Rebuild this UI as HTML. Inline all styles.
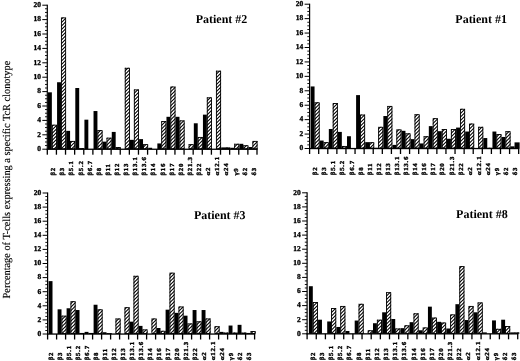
<!DOCTYPE html>
<html><head><meta charset="utf-8"><style>
html,body{margin:0;padding:0;background:#fff;}
body{width:520px;height:361px;overflow:hidden;}
svg{display:block;filter:grayscale(1);}
text{font-family:"Liberation Serif",serif;fill:#000;text-rendering:geometricPrecision;}
.b{font-weight:bold;}
.lb{font-weight:bold;stroke:#000;stroke-width:0.35px;}
.yl{font-weight:bold;stroke:#000;stroke-width:0.3px;}
</style></head><body>
<svg width="520" height="361" viewBox="0 0 520 361">
<rect x="0" y="0" width="520" height="361" fill="#fff"/>
<text x="0" y="0" font-size="10.8" text-anchor="middle" stroke="#000" stroke-width="0.12" transform="translate(9.6,179.6) rotate(-90) scale(0.955,1)">Percentage of T-cells expressing a specific TcR clonotype</text>
<clipPath id="c0"><rect x="51.85" y="124.72" width="5.1" height="24.48"/><rect x="60.97" y="17.44" width="5.1" height="131.76"/><rect x="70.08" y="140.92" width="5.1" height="8.28"/><rect x="79.2" y="148.12" width="5.1" height="1.08"/><rect x="97.44" y="130.12" width="5.1" height="19.08"/><rect x="106.55" y="137.68" width="5.1" height="11.52"/><rect x="115.67" y="147.04" width="5.1" height="2.16"/><rect x="124.79" y="67.84" width="5.1" height="81.36"/><rect x="133.9" y="89.44" width="5.1" height="59.76"/><rect x="143.02" y="144.16" width="5.1" height="5.04"/><rect x="161.25" y="121.12" width="5.1" height="28.08"/><rect x="170.37" y="86.56" width="5.1" height="62.64"/><rect x="179.49" y="120.4" width="5.1" height="28.8"/><rect x="188.6" y="144.16" width="5.1" height="5.04"/><rect x="197.72" y="136.96" width="5.1" height="12.24"/><rect x="206.84" y="97.36" width="5.1" height="51.84"/><rect x="215.96" y="70.72" width="5.1" height="78.48"/><rect x="225.07" y="147.4" width="5.1" height="1.8"/><rect x="234.19" y="143.8" width="5.1" height="5.4"/><rect x="243.31" y="145.24" width="5.1" height="3.96"/><rect x="252.42" y="140.92" width="5.1" height="8.28"/></clipPath>
<g clip-path="url(#c0)"><rect x="47.3" y="3.2" width="211.69" height="147" fill="#fff"/><path d="M47.3 -1.8L258.99 -213.49M47.3 1.7L258.99 -209.99M47.3 5.2L258.99 -206.49M47.3 8.7L258.99 -202.99M47.3 12.2L258.99 -199.49M47.3 15.7L258.99 -195.99M47.3 19.2L258.99 -192.49M47.3 22.7L258.99 -188.99M47.3 26.2L258.99 -185.49M47.3 29.7L258.99 -181.99M47.3 33.2L258.99 -178.49M47.3 36.7L258.99 -174.99M47.3 40.2L258.99 -171.49M47.3 43.7L258.99 -167.99M47.3 47.2L258.99 -164.49M47.3 50.7L258.99 -160.99M47.3 54.2L258.99 -157.49M47.3 57.7L258.99 -153.99M47.3 61.2L258.99 -150.49M47.3 64.7L258.99 -146.99M47.3 68.2L258.99 -143.49M47.3 71.7L258.99 -139.99M47.3 75.2L258.99 -136.49M47.3 78.7L258.99 -132.99M47.3 82.2L258.99 -129.49M47.3 85.7L258.99 -125.99M47.3 89.2L258.99 -122.49M47.3 92.7L258.99 -118.99M47.3 96.2L258.99 -115.49M47.3 99.7L258.99 -111.99M47.3 103.2L258.99 -108.49M47.3 106.7L258.99 -104.99M47.3 110.2L258.99 -101.49M47.3 113.7L258.99 -97.99M47.3 117.2L258.99 -94.49M47.3 120.7L258.99 -90.99M47.3 124.2L258.99 -87.49M47.3 127.7L258.99 -83.99M47.3 131.2L258.99 -80.49M47.3 134.7L258.99 -76.99M47.3 138.2L258.99 -73.49M47.3 141.7L258.99 -69.99M47.3 145.2L258.99 -66.49M47.3 148.7L258.99 -62.99M47.3 152.2L258.99 -59.49M47.3 155.7L258.99 -55.99M47.3 159.2L258.99 -52.49M47.3 162.7L258.99 -48.99M47.3 166.2L258.99 -45.49M47.3 169.7L258.99 -41.99M47.3 173.2L258.99 -38.49M47.3 176.7L258.99 -34.99M47.3 180.2L258.99 -31.49M47.3 183.7L258.99 -27.99M47.3 187.2L258.99 -24.49M47.3 190.7L258.99 -20.99M47.3 194.2L258.99 -17.49M47.3 197.7L258.99 -13.99M47.3 201.2L258.99 -10.49M47.3 204.7L258.99 -6.99M47.3 208.2L258.99 -3.49M47.3 211.7L258.99 0.01M47.3 215.2L258.99 3.51M47.3 218.7L258.99 7.01M47.3 222.2L258.99 10.51M47.3 225.7L258.99 14.01M47.3 229.2L258.99 17.51M47.3 232.7L258.99 21.01M47.3 236.2L258.99 24.51M47.3 239.7L258.99 28.01M47.3 243.2L258.99 31.51M47.3 246.7L258.99 35.01M47.3 250.2L258.99 38.51M47.3 253.7L258.99 42.01M47.3 257.2L258.99 45.51M47.3 260.7L258.99 49.01M47.3 264.2L258.99 52.51M47.3 267.7L258.99 56.01M47.3 271.2L258.99 59.51M47.3 274.7L258.99 63.01M47.3 278.2L258.99 66.51M47.3 281.7L258.99 70.01M47.3 285.2L258.99 73.51M47.3 288.7L258.99 77.01M47.3 292.2L258.99 80.51M47.3 295.7L258.99 84.01M47.3 299.2L258.99 87.51M47.3 302.7L258.99 91.01M47.3 306.2L258.99 94.51M47.3 309.7L258.99 98.01M47.3 313.2L258.99 101.51M47.3 316.7L258.99 105.01M47.3 320.2L258.99 108.51M47.3 323.7L258.99 112.01M47.3 327.2L258.99 115.51M47.3 330.7L258.99 119.01M47.3 334.2L258.99 122.51M47.3 337.7L258.99 126.01M47.3 341.2L258.99 129.51M47.3 344.7L258.99 133.01M47.3 348.2L258.99 136.51M47.3 351.7L258.99 140.01M47.3 355.2L258.99 143.51M47.3 358.7L258.99 147.01M47.3 362.2L258.99 150.51" stroke="#000" stroke-width="1.05" fill="none"/></g>
<g fill="none" stroke="#000" stroke-width="0.9"><rect x="52.3" y="125.17" width="4.2" height="23.58"/><rect x="61.42" y="17.89" width="4.2" height="130.86"/><rect x="70.53" y="141.37" width="4.2" height="7.38"/><rect x="79.65" y="148.57" width="4.2" height="0.18"/><rect x="97.89" y="130.57" width="4.2" height="18.18"/><rect x="107" y="138.13" width="4.2" height="10.62"/><rect x="116.12" y="147.49" width="4.2" height="1.26"/><rect x="125.24" y="68.29" width="4.2" height="80.46"/><rect x="134.35" y="89.89" width="4.2" height="58.86"/><rect x="143.47" y="144.61" width="4.2" height="4.14"/><rect x="161.7" y="121.57" width="4.2" height="27.18"/><rect x="170.82" y="87.01" width="4.2" height="61.74"/><rect x="179.94" y="120.85" width="4.2" height="27.9"/><rect x="189.05" y="144.61" width="4.2" height="4.14"/><rect x="198.17" y="137.41" width="4.2" height="11.34"/><rect x="207.29" y="97.81" width="4.2" height="50.94"/><rect x="216.41" y="71.17" width="4.2" height="77.58"/><rect x="225.52" y="147.85" width="4.2" height="0.9"/><rect x="234.64" y="144.25" width="4.2" height="4.5"/><rect x="243.76" y="145.69" width="4.2" height="3.06"/><rect x="252.87" y="141.37" width="4.2" height="7.38"/></g>
<g fill="#000"><rect x="47.95" y="92.32" width="3.9" height="56.88"/><rect x="57.07" y="82.24" width="3.9" height="66.96"/><rect x="66.18" y="130.84" width="3.9" height="18.36"/><rect x="75.3" y="88" width="3.9" height="61.2"/><rect x="84.42" y="119.68" width="3.9" height="29.52"/><rect x="93.53" y="111.04" width="3.9" height="38.16"/><rect x="102.65" y="141.64" width="3.9" height="7.56"/><rect x="111.77" y="131.92" width="3.9" height="17.28"/><rect x="130" y="139.84" width="3.9" height="9.36"/><rect x="139.12" y="139.12" width="3.9" height="10.08"/><rect x="148.24" y="147.76" width="3.9" height="1.44"/><rect x="157.35" y="143.44" width="3.9" height="5.76"/><rect x="166.47" y="116.8" width="3.9" height="32.4"/><rect x="175.59" y="116.8" width="3.9" height="32.4"/><rect x="193.82" y="123.28" width="3.9" height="25.92"/><rect x="202.94" y="114.64" width="3.9" height="34.56"/><rect x="221.17" y="147.4" width="3.9" height="1.8"/><rect x="230.29" y="147.76" width="3.9" height="1.44"/><rect x="239.41" y="143.8" width="3.9" height="5.4"/><rect x="248.52" y="147.04" width="3.9" height="2.16"/></g>
<rect x="46.7" y="4.7" width="1.2" height="145" fill="#000"/>
<rect x="46.7" y="148.6" width="210.89" height="1.3" fill="#000"/>
<rect x="42.3" y="148.7" width="5" height="1" fill="#000"/>
<rect x="45" y="145.15" width="2.3" height="0.9" fill="#000"/>
<rect x="45" y="141.55" width="2.3" height="0.9" fill="#000"/>
<rect x="45" y="137.95" width="2.3" height="0.9" fill="#000"/>
<rect x="42.3" y="134.3" width="5" height="1" fill="#000"/>
<rect x="45" y="130.75" width="2.3" height="0.9" fill="#000"/>
<rect x="45" y="127.15" width="2.3" height="0.9" fill="#000"/>
<rect x="45" y="123.55" width="2.3" height="0.9" fill="#000"/>
<rect x="42.3" y="119.9" width="5" height="1" fill="#000"/>
<rect x="45" y="116.35" width="2.3" height="0.9" fill="#000"/>
<rect x="45" y="112.75" width="2.3" height="0.9" fill="#000"/>
<rect x="45" y="109.15" width="2.3" height="0.9" fill="#000"/>
<rect x="42.3" y="105.5" width="5" height="1" fill="#000"/>
<rect x="45" y="101.95" width="2.3" height="0.9" fill="#000"/>
<rect x="45" y="98.35" width="2.3" height="0.9" fill="#000"/>
<rect x="45" y="94.75" width="2.3" height="0.9" fill="#000"/>
<rect x="42.3" y="91.1" width="5" height="1" fill="#000"/>
<rect x="45" y="87.55" width="2.3" height="0.9" fill="#000"/>
<rect x="45" y="83.95" width="2.3" height="0.9" fill="#000"/>
<rect x="45" y="80.35" width="2.3" height="0.9" fill="#000"/>
<rect x="42.3" y="76.7" width="5" height="1" fill="#000"/>
<rect x="45" y="73.15" width="2.3" height="0.9" fill="#000"/>
<rect x="45" y="69.55" width="2.3" height="0.9" fill="#000"/>
<rect x="45" y="65.95" width="2.3" height="0.9" fill="#000"/>
<rect x="42.3" y="62.3" width="5" height="1" fill="#000"/>
<rect x="45" y="58.75" width="2.3" height="0.9" fill="#000"/>
<rect x="45" y="55.15" width="2.3" height="0.9" fill="#000"/>
<rect x="45" y="51.55" width="2.3" height="0.9" fill="#000"/>
<rect x="42.3" y="47.9" width="5" height="1" fill="#000"/>
<rect x="45" y="44.35" width="2.3" height="0.9" fill="#000"/>
<rect x="45" y="40.75" width="2.3" height="0.9" fill="#000"/>
<rect x="45" y="37.15" width="2.3" height="0.9" fill="#000"/>
<rect x="42.3" y="33.5" width="5" height="1" fill="#000"/>
<rect x="45" y="29.95" width="2.3" height="0.9" fill="#000"/>
<rect x="45" y="26.35" width="2.3" height="0.9" fill="#000"/>
<rect x="45" y="22.75" width="2.3" height="0.9" fill="#000"/>
<rect x="42.3" y="19.1" width="5" height="1" fill="#000"/>
<rect x="45" y="15.55" width="2.3" height="0.9" fill="#000"/>
<rect x="45" y="11.95" width="2.3" height="0.9" fill="#000"/>
<rect x="45" y="8.35" width="2.3" height="0.9" fill="#000"/>
<rect x="42.3" y="4.7" width="5" height="1" fill="#000"/>
<rect x="46.65" y="149.2" width="1.3" height="5.5" fill="#000"/>
<rect x="55.77" y="149.2" width="1.3" height="5.5" fill="#000"/>
<rect x="64.88" y="149.2" width="1.3" height="5.5" fill="#000"/>
<rect x="74" y="149.2" width="1.3" height="5.5" fill="#000"/>
<rect x="83.12" y="149.2" width="1.3" height="5.5" fill="#000"/>
<rect x="92.23" y="149.2" width="1.3" height="5.5" fill="#000"/>
<rect x="101.35" y="149.2" width="1.3" height="5.5" fill="#000"/>
<rect x="110.47" y="149.2" width="1.3" height="5.5" fill="#000"/>
<rect x="119.59" y="149.2" width="1.3" height="5.5" fill="#000"/>
<rect x="128.7" y="149.2" width="1.3" height="5.5" fill="#000"/>
<rect x="137.82" y="149.2" width="1.3" height="5.5" fill="#000"/>
<rect x="146.94" y="149.2" width="1.3" height="5.5" fill="#000"/>
<rect x="156.05" y="149.2" width="1.3" height="5.5" fill="#000"/>
<rect x="165.17" y="149.2" width="1.3" height="5.5" fill="#000"/>
<rect x="174.29" y="149.2" width="1.3" height="5.5" fill="#000"/>
<rect x="183.41" y="149.2" width="1.3" height="5.5" fill="#000"/>
<rect x="192.52" y="149.2" width="1.3" height="5.5" fill="#000"/>
<rect x="201.64" y="149.2" width="1.3" height="5.5" fill="#000"/>
<rect x="210.76" y="149.2" width="1.3" height="5.5" fill="#000"/>
<rect x="219.87" y="149.2" width="1.3" height="5.5" fill="#000"/>
<rect x="228.99" y="149.2" width="1.3" height="5.5" fill="#000"/>
<rect x="238.11" y="149.2" width="1.3" height="5.5" fill="#000"/>
<rect x="247.22" y="149.2" width="1.3" height="5.5" fill="#000"/>
<rect x="256.34" y="149.2" width="1.3" height="5.5" fill="#000"/>
<text class="yl" font-size="7.5" text-anchor="end" transform="translate(40.9,151)">0</text>
<text class="yl" font-size="7.5" text-anchor="end" transform="translate(40.9,136.6)">2</text>
<text class="yl" font-size="7.5" text-anchor="end" transform="translate(40.9,122.2)">4</text>
<text class="yl" font-size="7.5" text-anchor="end" transform="translate(40.9,107.8)">6</text>
<text class="yl" font-size="7.5" text-anchor="end" transform="translate(40.9,93.4)">8</text>
<text class="yl" font-size="7.5" text-anchor="end" transform="translate(40.9,79)">10</text>
<text class="yl" font-size="7.5" text-anchor="end" transform="translate(40.9,64.6)">12</text>
<text class="yl" font-size="7.5" text-anchor="end" transform="translate(40.9,50.2)">14</text>
<text class="yl" font-size="7.5" text-anchor="end" transform="translate(40.9,35.8)">16</text>
<text class="yl" font-size="7.5" text-anchor="end" transform="translate(40.9,21.4)">18</text>
<text class="yl" font-size="7.5" text-anchor="end" transform="translate(40.9,7)">20</text>
<text class="lb" font-size="6.2" letter-spacing="0.7" transform="translate(55.16,175.6) rotate(-90) scale(1.1,1)">β2</text>
<text class="lb" font-size="6.2" letter-spacing="0.7" transform="translate(64.28,175.6) rotate(-90) scale(1.1,1)">β3</text>
<text class="lb" font-size="6.2" letter-spacing="0.7" transform="translate(73.39,175.6) rotate(-90) scale(1.1,1)">β5.1</text>
<text class="lb" font-size="6.2" letter-spacing="0.7" transform="translate(82.51,175.6) rotate(-90) scale(1.1,1)">β5.2</text>
<text class="lb" font-size="6.2" letter-spacing="0.7" transform="translate(91.63,175.6) rotate(-90) scale(1.1,1)">β6.7</text>
<text class="lb" font-size="6.2" letter-spacing="0.7" transform="translate(100.74,175.6) rotate(-90) scale(1.1,1)">β8</text>
<text class="lb" font-size="6.2" letter-spacing="0.7" transform="translate(109.86,175.6) rotate(-90) scale(1.1,1)">β11</text>
<text class="lb" font-size="6.2" letter-spacing="0.7" transform="translate(118.98,175.6) rotate(-90) scale(1.1,1)">β12</text>
<text class="lb" font-size="6.2" letter-spacing="0.7" transform="translate(128.09,175.6) rotate(-90) scale(1.1,1)">β13</text>
<text class="lb" font-size="6.2" letter-spacing="0.7" transform="translate(137.21,175.6) rotate(-90) scale(1.1,1)">β13.1</text>
<text class="lb" font-size="6.2" letter-spacing="0.7" transform="translate(146.33,175.6) rotate(-90) scale(1.1,1)">β13.6</text>
<text class="lb" font-size="6.2" letter-spacing="0.7" transform="translate(155.45,175.6) rotate(-90) scale(1.1,1)">β14</text>
<text class="lb" font-size="6.2" letter-spacing="0.7" transform="translate(164.56,175.6) rotate(-90) scale(1.1,1)">β16</text>
<text class="lb" font-size="6.2" letter-spacing="0.7" transform="translate(173.68,175.6) rotate(-90) scale(1.1,1)">β17</text>
<text class="lb" font-size="6.2" letter-spacing="0.7" transform="translate(182.8,175.6) rotate(-90) scale(1.1,1)">β20</text>
<text class="lb" font-size="6.2" letter-spacing="0.7" transform="translate(191.91,175.6) rotate(-90) scale(1.1,1)">β21.3</text>
<text class="lb" font-size="6.2" letter-spacing="0.7" transform="translate(201.03,175.6) rotate(-90) scale(1.1,1)">β22</text>
<text class="lb" font-size="6.2" letter-spacing="0.7" transform="translate(210.15,175.6) rotate(-90) scale(1.1,1)">α2</text>
<text class="lb" font-size="6.2" letter-spacing="0.7" transform="translate(219.26,175.6) rotate(-90) scale(1.1,1)">α12.1</text>
<text class="lb" font-size="6.2" letter-spacing="0.7" transform="translate(228.38,175.6) rotate(-90) scale(1.1,1)">α24</text>
<text class="lb" font-size="6.2" letter-spacing="0.7" transform="translate(237.5,175.6) rotate(-90) scale(1.1,1)">γ9</text>
<text class="lb" font-size="6.2" letter-spacing="0.7" transform="translate(246.62,175.6) rotate(-90) scale(1.1,1)">δ2</text>
<text class="lb" font-size="6.2" letter-spacing="0.7" transform="translate(255.73,175.6) rotate(-90) scale(1.1,1)">δ3</text>
<text class="b" x="195.7" y="23.1" font-size="12">Patient #2</text>
<clipPath id="c1"><rect x="314.55" y="102.32" width="5.1" height="46.18"/><rect x="323.64" y="142.15" width="5.1" height="6.35"/><rect x="332.73" y="103.05" width="5.1" height="45.45"/><rect x="341.82" y="145.97" width="5.1" height="2.53"/><rect x="360" y="114.59" width="5.1" height="33.91"/><rect x="369.09" y="142.22" width="5.1" height="6.28"/><rect x="378.18" y="126.86" width="5.1" height="21.64"/><rect x="387.27" y="105.93" width="5.1" height="42.57"/><rect x="396.36" y="129.38" width="5.1" height="19.12"/><rect x="405.45" y="133.35" width="5.1" height="15.15"/><rect x="414.54" y="114.23" width="5.1" height="34.27"/><rect x="423.63" y="136.23" width="5.1" height="12.27"/><rect x="432.72" y="118.2" width="5.1" height="30.3"/><rect x="441.81" y="129.02" width="5.1" height="19.48"/><rect x="450.9" y="129.02" width="5.1" height="19.48"/><rect x="459.99" y="108.82" width="5.1" height="39.68"/><rect x="469.08" y="123.61" width="5.1" height="24.89"/><rect x="478.17" y="126.86" width="5.1" height="21.64"/><rect x="487.26" y="147.78" width="5.1" height="0.72"/><rect x="496.35" y="134.07" width="5.1" height="14.43"/><rect x="505.44" y="131.18" width="5.1" height="17.32"/></clipPath>
<g clip-path="url(#c1)"><rect x="309.6" y="2.2" width="211.07" height="147.3" fill="#fff"/><path d="M309.6 -1.6L520.67 -212.67M309.6 1.9L520.67 -209.17M309.6 5.4L520.67 -205.67M309.6 8.9L520.67 -202.17M309.6 12.4L520.67 -198.67M309.6 15.9L520.67 -195.17M309.6 19.4L520.67 -191.67M309.6 22.9L520.67 -188.17M309.6 26.4L520.67 -184.67M309.6 29.9L520.67 -181.17M309.6 33.4L520.67 -177.67M309.6 36.9L520.67 -174.17M309.6 40.4L520.67 -170.67M309.6 43.9L520.67 -167.17M309.6 47.4L520.67 -163.67M309.6 50.9L520.67 -160.17M309.6 54.4L520.67 -156.67M309.6 57.9L520.67 -153.17M309.6 61.4L520.67 -149.67M309.6 64.9L520.67 -146.17M309.6 68.4L520.67 -142.67M309.6 71.9L520.67 -139.17M309.6 75.4L520.67 -135.67M309.6 78.9L520.67 -132.17M309.6 82.4L520.67 -128.67M309.6 85.9L520.67 -125.17M309.6 89.4L520.67 -121.67M309.6 92.9L520.67 -118.17M309.6 96.4L520.67 -114.67M309.6 99.9L520.67 -111.17M309.6 103.4L520.67 -107.67M309.6 106.9L520.67 -104.17M309.6 110.4L520.67 -100.67M309.6 113.9L520.67 -97.17M309.6 117.4L520.67 -93.67M309.6 120.9L520.67 -90.17M309.6 124.4L520.67 -86.67M309.6 127.9L520.67 -83.17M309.6 131.4L520.67 -79.67M309.6 134.9L520.67 -76.17M309.6 138.4L520.67 -72.67M309.6 141.9L520.67 -69.17M309.6 145.4L520.67 -65.67M309.6 148.9L520.67 -62.17M309.6 152.4L520.67 -58.67M309.6 155.9L520.67 -55.17M309.6 159.4L520.67 -51.67M309.6 162.9L520.67 -48.17M309.6 166.4L520.67 -44.67M309.6 169.9L520.67 -41.17M309.6 173.4L520.67 -37.67M309.6 176.9L520.67 -34.17M309.6 180.4L520.67 -30.67M309.6 183.9L520.67 -27.17M309.6 187.4L520.67 -23.67M309.6 190.9L520.67 -20.17M309.6 194.4L520.67 -16.67M309.6 197.9L520.67 -13.17M309.6 201.4L520.67 -9.67M309.6 204.9L520.67 -6.17M309.6 208.4L520.67 -2.67M309.6 211.9L520.67 0.83M309.6 215.4L520.67 4.33M309.6 218.9L520.67 7.83M309.6 222.4L520.67 11.33M309.6 225.9L520.67 14.83M309.6 229.4L520.67 18.33M309.6 232.9L520.67 21.83M309.6 236.4L520.67 25.33M309.6 239.9L520.67 28.83M309.6 243.4L520.67 32.33M309.6 246.9L520.67 35.83M309.6 250.4L520.67 39.33M309.6 253.9L520.67 42.83M309.6 257.4L520.67 46.33M309.6 260.9L520.67 49.83M309.6 264.4L520.67 53.33M309.6 267.9L520.67 56.83M309.6 271.4L520.67 60.33M309.6 274.9L520.67 63.83M309.6 278.4L520.67 67.33M309.6 281.9L520.67 70.83M309.6 285.4L520.67 74.33M309.6 288.9L520.67 77.83M309.6 292.4L520.67 81.33M309.6 295.9L520.67 84.83M309.6 299.4L520.67 88.33M309.6 302.9L520.67 91.83M309.6 306.4L520.67 95.33M309.6 309.9L520.67 98.83M309.6 313.4L520.67 102.33M309.6 316.9L520.67 105.83M309.6 320.4L520.67 109.33M309.6 323.9L520.67 112.83M309.6 327.4L520.67 116.33M309.6 330.9L520.67 119.83M309.6 334.4L520.67 123.33M309.6 337.9L520.67 126.83M309.6 341.4L520.67 130.33M309.6 344.9L520.67 133.83M309.6 348.4L520.67 137.33M309.6 351.9L520.67 140.83M309.6 355.4L520.67 144.33M309.6 358.9L520.67 147.83M309.6 362.4L520.67 151.33" stroke="#000" stroke-width="1.05" fill="none"/></g>
<g fill="none" stroke="#000" stroke-width="0.9"><rect x="315" y="102.77" width="4.2" height="45.28"/><rect x="324.09" y="142.6" width="4.2" height="5.45"/><rect x="333.18" y="103.5" width="4.2" height="44.55"/><rect x="342.27" y="146.42" width="4.2" height="1.63"/><rect x="360.45" y="115.04" width="4.2" height="33.01"/><rect x="369.54" y="142.67" width="4.2" height="5.38"/><rect x="378.63" y="127.31" width="4.2" height="20.75"/><rect x="387.72" y="106.38" width="4.2" height="41.67"/><rect x="396.81" y="129.83" width="4.2" height="18.22"/><rect x="405.9" y="133.8" width="4.2" height="14.25"/><rect x="414.99" y="114.68" width="4.2" height="33.37"/><rect x="424.08" y="136.68" width="4.2" height="11.37"/><rect x="433.17" y="118.65" width="4.2" height="29.4"/><rect x="442.26" y="129.47" width="4.2" height="18.58"/><rect x="451.35" y="129.47" width="4.2" height="18.58"/><rect x="460.44" y="109.27" width="4.2" height="38.78"/><rect x="469.53" y="124.06" width="4.2" height="23.99"/><rect x="478.62" y="127.31" width="4.2" height="20.75"/><rect x="487.71" y="148.23" width="4.2" height="0.01"/><rect x="496.8" y="134.52" width="4.2" height="13.53"/><rect x="505.89" y="131.63" width="4.2" height="16.42"/></g>
<g fill="#000"><rect x="310.65" y="86.45" width="3.9" height="62.05"/><rect x="319.74" y="140.56" width="3.9" height="7.94"/><rect x="328.83" y="129.02" width="3.9" height="19.48"/><rect x="337.92" y="131.91" width="3.9" height="16.59"/><rect x="347.01" y="136.23" width="3.9" height="12.27"/><rect x="356.1" y="95.11" width="3.9" height="53.39"/><rect x="365.19" y="142.15" width="3.9" height="6.35"/><rect x="374.28" y="147.78" width="3.9" height="0.72"/><rect x="383.37" y="116.03" width="3.9" height="32.47"/><rect x="392.46" y="144.89" width="3.9" height="3.61"/><rect x="401.55" y="130.82" width="3.9" height="17.68"/><rect x="410.64" y="139.12" width="3.9" height="9.38"/><rect x="419.73" y="143.45" width="3.9" height="5.05"/><rect x="428.82" y="126.13" width="3.9" height="22.37"/><rect x="437.91" y="131.18" width="3.9" height="17.32"/><rect x="447" y="138.76" width="3.9" height="9.74"/><rect x="456.09" y="127.58" width="3.9" height="20.92"/><rect x="465.18" y="131.54" width="3.9" height="16.96"/><rect x="483.36" y="138.04" width="3.9" height="10.46"/><rect x="492.45" y="131.54" width="3.9" height="16.96"/><rect x="501.54" y="136.96" width="3.9" height="11.54"/><rect x="514.53" y="142.37" width="5.1" height="6.13"/><rect x="510.63" y="146.34" width="3.9" height="2.16"/></g>
<rect x="309" y="3.7" width="1.2" height="145.3" fill="#000"/>
<rect x="309" y="147.9" width="210.27" height="1.3" fill="#000"/>
<rect x="304.6" y="148" width="5" height="1" fill="#000"/>
<rect x="307.3" y="144.44" width="2.3" height="0.9" fill="#000"/>
<rect x="307.3" y="140.84" width="2.3" height="0.9" fill="#000"/>
<rect x="307.3" y="137.23" width="2.3" height="0.9" fill="#000"/>
<rect x="304.6" y="133.57" width="5" height="1" fill="#000"/>
<rect x="307.3" y="130.01" width="2.3" height="0.9" fill="#000"/>
<rect x="307.3" y="126.41" width="2.3" height="0.9" fill="#000"/>
<rect x="307.3" y="122.8" width="2.3" height="0.9" fill="#000"/>
<rect x="304.6" y="119.14" width="5" height="1" fill="#000"/>
<rect x="307.3" y="115.58" width="2.3" height="0.9" fill="#000"/>
<rect x="307.3" y="111.97" width="2.3" height="0.9" fill="#000"/>
<rect x="307.3" y="108.37" width="2.3" height="0.9" fill="#000"/>
<rect x="304.6" y="104.71" width="5" height="1" fill="#000"/>
<rect x="307.3" y="101.15" width="2.3" height="0.9" fill="#000"/>
<rect x="307.3" y="97.55" width="2.3" height="0.9" fill="#000"/>
<rect x="307.3" y="93.94" width="2.3" height="0.9" fill="#000"/>
<rect x="304.6" y="90.28" width="5" height="1" fill="#000"/>
<rect x="307.3" y="86.72" width="2.3" height="0.9" fill="#000"/>
<rect x="307.3" y="83.11" width="2.3" height="0.9" fill="#000"/>
<rect x="307.3" y="79.51" width="2.3" height="0.9" fill="#000"/>
<rect x="304.6" y="75.85" width="5" height="1" fill="#000"/>
<rect x="307.3" y="72.29" width="2.3" height="0.9" fill="#000"/>
<rect x="307.3" y="68.69" width="2.3" height="0.9" fill="#000"/>
<rect x="307.3" y="65.08" width="2.3" height="0.9" fill="#000"/>
<rect x="304.6" y="61.42" width="5" height="1" fill="#000"/>
<rect x="307.3" y="57.86" width="2.3" height="0.9" fill="#000"/>
<rect x="307.3" y="54.25" width="2.3" height="0.9" fill="#000"/>
<rect x="307.3" y="50.65" width="2.3" height="0.9" fill="#000"/>
<rect x="304.6" y="46.99" width="5" height="1" fill="#000"/>
<rect x="307.3" y="43.43" width="2.3" height="0.9" fill="#000"/>
<rect x="307.3" y="39.83" width="2.3" height="0.9" fill="#000"/>
<rect x="307.3" y="36.22" width="2.3" height="0.9" fill="#000"/>
<rect x="304.6" y="32.56" width="5" height="1" fill="#000"/>
<rect x="307.3" y="29" width="2.3" height="0.9" fill="#000"/>
<rect x="307.3" y="25.39" width="2.3" height="0.9" fill="#000"/>
<rect x="307.3" y="21.79" width="2.3" height="0.9" fill="#000"/>
<rect x="304.6" y="18.13" width="5" height="1" fill="#000"/>
<rect x="307.3" y="14.57" width="2.3" height="0.9" fill="#000"/>
<rect x="307.3" y="10.96" width="2.3" height="0.9" fill="#000"/>
<rect x="307.3" y="7.36" width="2.3" height="0.9" fill="#000"/>
<rect x="304.6" y="3.7" width="5" height="1" fill="#000"/>
<rect x="308.95" y="148.5" width="1.3" height="5.5" fill="#000"/>
<rect x="318.04" y="148.5" width="1.3" height="5.5" fill="#000"/>
<rect x="327.13" y="148.5" width="1.3" height="5.5" fill="#000"/>
<rect x="336.22" y="148.5" width="1.3" height="5.5" fill="#000"/>
<rect x="345.31" y="148.5" width="1.3" height="5.5" fill="#000"/>
<rect x="354.4" y="148.5" width="1.3" height="5.5" fill="#000"/>
<rect x="363.49" y="148.5" width="1.3" height="5.5" fill="#000"/>
<rect x="372.58" y="148.5" width="1.3" height="5.5" fill="#000"/>
<rect x="381.67" y="148.5" width="1.3" height="5.5" fill="#000"/>
<rect x="390.76" y="148.5" width="1.3" height="5.5" fill="#000"/>
<rect x="399.85" y="148.5" width="1.3" height="5.5" fill="#000"/>
<rect x="408.94" y="148.5" width="1.3" height="5.5" fill="#000"/>
<rect x="418.03" y="148.5" width="1.3" height="5.5" fill="#000"/>
<rect x="427.12" y="148.5" width="1.3" height="5.5" fill="#000"/>
<rect x="436.21" y="148.5" width="1.3" height="5.5" fill="#000"/>
<rect x="445.3" y="148.5" width="1.3" height="5.5" fill="#000"/>
<rect x="454.39" y="148.5" width="1.3" height="5.5" fill="#000"/>
<rect x="463.48" y="148.5" width="1.3" height="5.5" fill="#000"/>
<rect x="472.57" y="148.5" width="1.3" height="5.5" fill="#000"/>
<rect x="481.66" y="148.5" width="1.3" height="5.5" fill="#000"/>
<rect x="490.75" y="148.5" width="1.3" height="5.5" fill="#000"/>
<rect x="499.84" y="148.5" width="1.3" height="5.5" fill="#000"/>
<rect x="508.93" y="148.5" width="1.3" height="5.5" fill="#000"/>
<rect x="518.02" y="148.5" width="1.3" height="5.5" fill="#000"/>
<text class="yl" font-size="7.5" text-anchor="end" transform="translate(303.2,150.3)">0</text>
<text class="yl" font-size="7.5" text-anchor="end" transform="translate(303.2,135.87)">2</text>
<text class="yl" font-size="7.5" text-anchor="end" transform="translate(303.2,121.44)">4</text>
<text class="yl" font-size="7.5" text-anchor="end" transform="translate(303.2,107.01)">6</text>
<text class="yl" font-size="7.5" text-anchor="end" transform="translate(303.2,92.58)">8</text>
<text class="yl" font-size="7.5" text-anchor="end" transform="translate(303.2,78.15)">10</text>
<text class="yl" font-size="7.5" text-anchor="end" transform="translate(303.2,63.72)">12</text>
<text class="yl" font-size="7.5" text-anchor="end" transform="translate(303.2,49.29)">14</text>
<text class="yl" font-size="7.5" text-anchor="end" transform="translate(303.2,34.86)">16</text>
<text class="yl" font-size="7.5" text-anchor="end" transform="translate(303.2,20.43)">18</text>
<text class="yl" font-size="7.5" text-anchor="end" transform="translate(303.2,6)">20</text>
<text class="lb" font-size="6.2" letter-spacing="0.7" transform="translate(317.2,175.2) rotate(-90) scale(1.1,1)">β2</text>
<text class="lb" font-size="6.2" letter-spacing="0.7" transform="translate(326.29,175.2) rotate(-90) scale(1.1,1)">β3</text>
<text class="lb" font-size="6.2" letter-spacing="0.7" transform="translate(335.38,175.2) rotate(-90) scale(1.1,1)">β5.1</text>
<text class="lb" font-size="6.2" letter-spacing="0.7" transform="translate(344.47,175.2) rotate(-90) scale(1.1,1)">β5.2</text>
<text class="lb" font-size="6.2" letter-spacing="0.7" transform="translate(353.56,175.2) rotate(-90) scale(1.1,1)">β6.7</text>
<text class="lb" font-size="6.2" letter-spacing="0.7" transform="translate(362.65,175.2) rotate(-90) scale(1.1,1)">β8</text>
<text class="lb" font-size="6.2" letter-spacing="0.7" transform="translate(371.74,175.2) rotate(-90) scale(1.1,1)">β11</text>
<text class="lb" font-size="6.2" letter-spacing="0.7" transform="translate(380.83,175.2) rotate(-90) scale(1.1,1)">β12</text>
<text class="lb" font-size="6.2" letter-spacing="0.7" transform="translate(389.92,175.2) rotate(-90) scale(1.1,1)">β13</text>
<text class="lb" font-size="6.2" letter-spacing="0.7" transform="translate(399.01,175.2) rotate(-90) scale(1.1,1)">β13.1</text>
<text class="lb" font-size="6.2" letter-spacing="0.7" transform="translate(408.1,175.2) rotate(-90) scale(1.1,1)">β13.6</text>
<text class="lb" font-size="6.2" letter-spacing="0.7" transform="translate(417.19,175.2) rotate(-90) scale(1.1,1)">β14</text>
<text class="lb" font-size="6.2" letter-spacing="0.7" transform="translate(426.28,175.2) rotate(-90) scale(1.1,1)">β16</text>
<text class="lb" font-size="6.2" letter-spacing="0.7" transform="translate(435.37,175.2) rotate(-90) scale(1.1,1)">β17</text>
<text class="lb" font-size="6.2" letter-spacing="0.7" transform="translate(444.46,175.2) rotate(-90) scale(1.1,1)">β20</text>
<text class="lb" font-size="6.2" letter-spacing="0.7" transform="translate(453.55,175.2) rotate(-90) scale(1.1,1)">β21.3</text>
<text class="lb" font-size="6.2" letter-spacing="0.7" transform="translate(462.64,175.2) rotate(-90) scale(1.1,1)">β22</text>
<text class="lb" font-size="6.2" letter-spacing="0.7" transform="translate(471.73,175.2) rotate(-90) scale(1.1,1)">α2</text>
<text class="lb" font-size="6.2" letter-spacing="0.7" transform="translate(480.81,175.2) rotate(-90) scale(1.1,1)">α12.1</text>
<text class="lb" font-size="6.2" letter-spacing="0.7" transform="translate(489.91,175.2) rotate(-90) scale(1.1,1)">α24</text>
<text class="lb" font-size="6.2" letter-spacing="0.7" transform="translate(499,175.2) rotate(-90) scale(1.1,1)">γ9</text>
<text class="lb" font-size="6.2" letter-spacing="0.7" transform="translate(508.09,175.2) rotate(-90) scale(1.1,1)">δ2</text>
<text class="lb" font-size="6.2" letter-spacing="0.7" transform="translate(517.17,175.2) rotate(-90) scale(1.1,1)">δ3</text>
<text class="b" x="455.3" y="22.8" font-size="12">Patient #1</text>
<clipPath id="c2"><rect x="61.5" y="315.67" width="5.1" height="18.33"/><rect x="70.5" y="301.22" width="5.1" height="32.78"/><rect x="79.5" y="332.94" width="5.1" height="1.06"/><rect x="88.5" y="332.94" width="5.1" height="1.06"/><rect x="97.5" y="309.32" width="5.1" height="24.68"/><rect x="106.5" y="333.15" width="5.1" height="0.85"/><rect x="115.5" y="318.49" width="5.1" height="15.51"/><rect x="124.5" y="307.21" width="5.1" height="26.79"/><rect x="133.5" y="275.84" width="5.1" height="58.16"/><rect x="142.5" y="329.42" width="5.1" height="4.58"/><rect x="151.5" y="318.49" width="5.1" height="15.51"/><rect x="160.5" y="330.83" width="5.1" height="3.17"/><rect x="169.5" y="272.67" width="5.1" height="61.33"/><rect x="178.5" y="306.5" width="5.1" height="27.49"/><rect x="187.5" y="323.43" width="5.1" height="10.57"/><rect x="196.5" y="321.31" width="5.1" height="12.69"/><rect x="205.5" y="318.49" width="5.1" height="15.51"/><rect x="214.5" y="326.25" width="5.1" height="7.76"/><rect x="223.5" y="332.59" width="5.1" height="1.41"/><rect x="232.5" y="332.59" width="5.1" height="1.41"/><rect x="241.5" y="332.59" width="5.1" height="1.41"/><rect x="250.5" y="331.04" width="5.1" height="2.96"/></clipPath>
<g clip-path="url(#c2)"><rect x="47.6" y="191" width="209" height="144" fill="#fff"/><path d="M47.6 186.9L256.6 -22.1M47.6 190.4L256.6 -18.6M47.6 193.9L256.6 -15.1M47.6 197.4L256.6 -11.6M47.6 200.9L256.6 -8.1M47.6 204.4L256.6 -4.6M47.6 207.9L256.6 -1.1M47.6 211.4L256.6 2.4M47.6 214.9L256.6 5.9M47.6 218.4L256.6 9.4M47.6 221.9L256.6 12.9M47.6 225.4L256.6 16.4M47.6 228.9L256.6 19.9M47.6 232.4L256.6 23.4M47.6 235.9L256.6 26.9M47.6 239.4L256.6 30.4M47.6 242.9L256.6 33.9M47.6 246.4L256.6 37.4M47.6 249.9L256.6 40.9M47.6 253.4L256.6 44.4M47.6 256.9L256.6 47.9M47.6 260.4L256.6 51.4M47.6 263.9L256.6 54.9M47.6 267.4L256.6 58.4M47.6 270.9L256.6 61.9M47.6 274.4L256.6 65.4M47.6 277.9L256.6 68.9M47.6 281.4L256.6 72.4M47.6 284.9L256.6 75.9M47.6 288.4L256.6 79.4M47.6 291.9L256.6 82.9M47.6 295.4L256.6 86.4M47.6 298.9L256.6 89.9M47.6 302.4L256.6 93.4M47.6 305.9L256.6 96.9M47.6 309.4L256.6 100.4M47.6 312.9L256.6 103.9M47.6 316.4L256.6 107.4M47.6 319.9L256.6 110.9M47.6 323.4L256.6 114.4M47.6 326.9L256.6 117.9M47.6 330.4L256.6 121.4M47.6 333.9L256.6 124.9M47.6 337.4L256.6 128.4M47.6 340.9L256.6 131.9M47.6 344.4L256.6 135.4M47.6 347.9L256.6 138.9M47.6 351.4L256.6 142.4M47.6 354.9L256.6 145.9M47.6 358.4L256.6 149.4M47.6 361.9L256.6 152.9M47.6 365.4L256.6 156.4M47.6 368.9L256.6 159.9M47.6 372.4L256.6 163.4M47.6 375.9L256.6 166.9M47.6 379.4L256.6 170.4M47.6 382.9L256.6 173.9M47.6 386.4L256.6 177.4M47.6 389.9L256.6 180.9M47.6 393.4L256.6 184.4M47.6 396.9L256.6 187.9M47.6 400.4L256.6 191.4M47.6 403.9L256.6 194.9M47.6 407.4L256.6 198.4M47.6 410.9L256.6 201.9M47.6 414.4L256.6 205.4M47.6 417.9L256.6 208.9M47.6 421.4L256.6 212.4M47.6 424.9L256.6 215.9M47.6 428.4L256.6 219.4M47.6 431.9L256.6 222.9M47.6 435.4L256.6 226.4M47.6 438.9L256.6 229.9M47.6 442.4L256.6 233.4M47.6 445.9L256.6 236.9M47.6 449.4L256.6 240.4M47.6 452.9L256.6 243.9M47.6 456.4L256.6 247.4M47.6 459.9L256.6 250.9M47.6 463.4L256.6 254.4M47.6 466.9L256.6 257.9M47.6 470.4L256.6 261.4M47.6 473.9L256.6 264.9M47.6 477.4L256.6 268.4M47.6 480.9L256.6 271.9M47.6 484.4L256.6 275.4M47.6 487.9L256.6 278.9M47.6 491.4L256.6 282.4M47.6 494.9L256.6 285.9M47.6 498.4L256.6 289.4M47.6 501.9L256.6 292.9M47.6 505.4L256.6 296.4M47.6 508.9L256.6 299.9M47.6 512.4L256.6 303.4M47.6 515.9L256.6 306.9M47.6 519.4L256.6 310.4M47.6 522.9L256.6 313.9M47.6 526.4L256.6 317.4M47.6 529.9L256.6 320.9M47.6 533.4L256.6 324.4M47.6 536.9L256.6 327.9M47.6 540.4L256.6 331.4M47.6 543.9L256.6 334.9M47.6 547.4L256.6 338.4" stroke="#000" stroke-width="1.05" fill="none"/></g>
<g fill="none" stroke="#000" stroke-width="0.9"><rect x="61.95" y="316.12" width="4.2" height="17.43"/><rect x="70.95" y="301.67" width="4.2" height="31.88"/><rect x="79.95" y="333.39" width="4.2" height="0.16"/><rect x="88.95" y="333.39" width="4.2" height="0.16"/><rect x="97.95" y="309.77" width="4.2" height="23.78"/><rect x="106.95" y="333.6" width="4.2" height="0.01"/><rect x="115.95" y="318.94" width="4.2" height="14.61"/><rect x="124.95" y="307.66" width="4.2" height="25.89"/><rect x="133.95" y="276.29" width="4.2" height="57.26"/><rect x="142.95" y="329.87" width="4.2" height="3.68"/><rect x="151.95" y="318.94" width="4.2" height="14.61"/><rect x="160.95" y="331.28" width="4.2" height="2.27"/><rect x="169.95" y="273.12" width="4.2" height="60.43"/><rect x="178.95" y="306.95" width="4.2" height="26.59"/><rect x="187.95" y="323.88" width="4.2" height="9.67"/><rect x="196.95" y="321.76" width="4.2" height="11.79"/><rect x="205.95" y="318.94" width="4.2" height="14.61"/><rect x="214.95" y="326.69" width="4.2" height="6.86"/><rect x="223.95" y="333.04" width="4.2" height="0.51"/><rect x="232.95" y="333.04" width="4.2" height="0.51"/><rect x="241.95" y="333.04" width="4.2" height="0.51"/><rect x="250.95" y="331.49" width="4.2" height="2.06"/></g>
<g fill="#000"><rect x="48.6" y="281.12" width="3.9" height="52.88"/><rect x="57.6" y="309.32" width="3.9" height="24.68"/><rect x="66.6" y="308.27" width="3.9" height="25.73"/><rect x="75.6" y="310.03" width="3.9" height="23.97"/><rect x="84.6" y="331.88" width="3.9" height="2.11"/><rect x="93.6" y="304.74" width="3.9" height="29.26"/><rect x="102.6" y="332.24" width="3.9" height="1.76"/><rect x="129.6" y="321.66" width="3.9" height="12.34"/><rect x="138.6" y="325.89" width="3.9" height="8.11"/><rect x="156.6" y="328.01" width="3.9" height="5.99"/><rect x="165.6" y="309.68" width="3.9" height="24.32"/><rect x="174.6" y="312.85" width="3.9" height="21.15"/><rect x="183.6" y="315.67" width="3.9" height="18.33"/><rect x="192.6" y="310.03" width="3.9" height="23.97"/><rect x="201.6" y="310.03" width="3.9" height="23.97"/><rect x="219.6" y="331.88" width="3.9" height="2.11"/><rect x="228.6" y="325.54" width="3.9" height="8.46"/><rect x="237.6" y="324.83" width="3.9" height="9.17"/><rect x="246.6" y="332.94" width="3.9" height="1.06"/></g>
<rect x="47" y="192.5" width="1.2" height="142" fill="#000"/>
<rect x="47" y="333.4" width="208.2" height="1.3" fill="#000"/>
<rect x="42.6" y="333.5" width="5" height="1" fill="#000"/>
<rect x="45.3" y="330.03" width="2.3" height="0.9" fill="#000"/>
<rect x="45.3" y="326.5" width="2.3" height="0.9" fill="#000"/>
<rect x="45.3" y="322.98" width="2.3" height="0.9" fill="#000"/>
<rect x="42.6" y="319.4" width="5" height="1" fill="#000"/>
<rect x="45.3" y="315.93" width="2.3" height="0.9" fill="#000"/>
<rect x="45.3" y="312.4" width="2.3" height="0.9" fill="#000"/>
<rect x="45.3" y="308.88" width="2.3" height="0.9" fill="#000"/>
<rect x="42.6" y="305.3" width="5" height="1" fill="#000"/>
<rect x="45.3" y="301.82" width="2.3" height="0.9" fill="#000"/>
<rect x="45.3" y="298.3" width="2.3" height="0.9" fill="#000"/>
<rect x="45.3" y="294.78" width="2.3" height="0.9" fill="#000"/>
<rect x="42.6" y="291.2" width="5" height="1" fill="#000"/>
<rect x="45.3" y="287.73" width="2.3" height="0.9" fill="#000"/>
<rect x="45.3" y="284.2" width="2.3" height="0.9" fill="#000"/>
<rect x="45.3" y="280.68" width="2.3" height="0.9" fill="#000"/>
<rect x="42.6" y="277.1" width="5" height="1" fill="#000"/>
<rect x="45.3" y="273.62" width="2.3" height="0.9" fill="#000"/>
<rect x="45.3" y="270.1" width="2.3" height="0.9" fill="#000"/>
<rect x="45.3" y="266.57" width="2.3" height="0.9" fill="#000"/>
<rect x="42.6" y="263" width="5" height="1" fill="#000"/>
<rect x="45.3" y="259.53" width="2.3" height="0.9" fill="#000"/>
<rect x="45.3" y="256" width="2.3" height="0.9" fill="#000"/>
<rect x="45.3" y="252.48" width="2.3" height="0.9" fill="#000"/>
<rect x="42.6" y="248.9" width="5" height="1" fill="#000"/>
<rect x="45.3" y="245.43" width="2.3" height="0.9" fill="#000"/>
<rect x="45.3" y="241.9" width="2.3" height="0.9" fill="#000"/>
<rect x="45.3" y="238.38" width="2.3" height="0.9" fill="#000"/>
<rect x="42.6" y="234.8" width="5" height="1" fill="#000"/>
<rect x="45.3" y="231.33" width="2.3" height="0.9" fill="#000"/>
<rect x="45.3" y="227.8" width="2.3" height="0.9" fill="#000"/>
<rect x="45.3" y="224.28" width="2.3" height="0.9" fill="#000"/>
<rect x="42.6" y="220.7" width="5" height="1" fill="#000"/>
<rect x="45.3" y="217.23" width="2.3" height="0.9" fill="#000"/>
<rect x="45.3" y="213.7" width="2.3" height="0.9" fill="#000"/>
<rect x="45.3" y="210.18" width="2.3" height="0.9" fill="#000"/>
<rect x="42.6" y="206.6" width="5" height="1" fill="#000"/>
<rect x="45.3" y="203.13" width="2.3" height="0.9" fill="#000"/>
<rect x="45.3" y="199.6" width="2.3" height="0.9" fill="#000"/>
<rect x="45.3" y="196.08" width="2.3" height="0.9" fill="#000"/>
<rect x="42.6" y="192.5" width="5" height="1" fill="#000"/>
<rect x="46.95" y="334" width="1.3" height="5.5" fill="#000"/>
<rect x="55.95" y="334" width="1.3" height="5.5" fill="#000"/>
<rect x="64.95" y="334" width="1.3" height="5.5" fill="#000"/>
<rect x="73.95" y="334" width="1.3" height="5.5" fill="#000"/>
<rect x="82.95" y="334" width="1.3" height="5.5" fill="#000"/>
<rect x="91.95" y="334" width="1.3" height="5.5" fill="#000"/>
<rect x="100.95" y="334" width="1.3" height="5.5" fill="#000"/>
<rect x="109.95" y="334" width="1.3" height="5.5" fill="#000"/>
<rect x="118.95" y="334" width="1.3" height="5.5" fill="#000"/>
<rect x="127.95" y="334" width="1.3" height="5.5" fill="#000"/>
<rect x="136.95" y="334" width="1.3" height="5.5" fill="#000"/>
<rect x="145.95" y="334" width="1.3" height="5.5" fill="#000"/>
<rect x="154.95" y="334" width="1.3" height="5.5" fill="#000"/>
<rect x="163.95" y="334" width="1.3" height="5.5" fill="#000"/>
<rect x="172.95" y="334" width="1.3" height="5.5" fill="#000"/>
<rect x="181.95" y="334" width="1.3" height="5.5" fill="#000"/>
<rect x="190.95" y="334" width="1.3" height="5.5" fill="#000"/>
<rect x="199.95" y="334" width="1.3" height="5.5" fill="#000"/>
<rect x="208.95" y="334" width="1.3" height="5.5" fill="#000"/>
<rect x="217.95" y="334" width="1.3" height="5.5" fill="#000"/>
<rect x="226.95" y="334" width="1.3" height="5.5" fill="#000"/>
<rect x="235.95" y="334" width="1.3" height="5.5" fill="#000"/>
<rect x="244.95" y="334" width="1.3" height="5.5" fill="#000"/>
<rect x="253.95" y="334" width="1.3" height="5.5" fill="#000"/>
<text class="yl" font-size="7.5" text-anchor="end" transform="translate(41.2,335.8)">0</text>
<text class="yl" font-size="7.5" text-anchor="end" transform="translate(41.2,321.7)">2</text>
<text class="yl" font-size="7.5" text-anchor="end" transform="translate(41.2,307.6)">4</text>
<text class="yl" font-size="7.5" text-anchor="end" transform="translate(41.2,293.5)">6</text>
<text class="yl" font-size="7.5" text-anchor="end" transform="translate(41.2,279.4)">8</text>
<text class="yl" font-size="7.5" text-anchor="end" transform="translate(41.2,265.3)">10</text>
<text class="yl" font-size="7.5" text-anchor="end" transform="translate(41.2,251.2)">12</text>
<text class="yl" font-size="7.5" text-anchor="end" transform="translate(41.2,237.1)">14</text>
<text class="yl" font-size="7.5" text-anchor="end" transform="translate(41.2,223)">16</text>
<text class="yl" font-size="7.5" text-anchor="end" transform="translate(41.2,208.9)">18</text>
<text class="yl" font-size="7.5" text-anchor="end" transform="translate(41.2,194.8)">20</text>
<text class="lb" font-size="6.2" letter-spacing="0.7" transform="translate(53.3,360.3) rotate(-90) scale(1.1,1)">β2</text>
<text class="lb" font-size="6.2" letter-spacing="0.7" transform="translate(62.3,360.3) rotate(-90) scale(1.1,1)">β3</text>
<text class="lb" font-size="6.2" letter-spacing="0.7" transform="translate(71.3,360.3) rotate(-90) scale(1.1,1)">β5.1</text>
<text class="lb" font-size="6.2" letter-spacing="0.7" transform="translate(80.3,360.3) rotate(-90) scale(1.1,1)">β5.2</text>
<text class="lb" font-size="6.2" letter-spacing="0.7" transform="translate(89.3,360.3) rotate(-90) scale(1.1,1)">β6.7</text>
<text class="lb" font-size="6.2" letter-spacing="0.7" transform="translate(98.3,360.3) rotate(-90) scale(1.1,1)">β8</text>
<text class="lb" font-size="6.2" letter-spacing="0.7" transform="translate(107.3,360.3) rotate(-90) scale(1.1,1)">β11</text>
<text class="lb" font-size="6.2" letter-spacing="0.7" transform="translate(116.3,360.3) rotate(-90) scale(1.1,1)">β12</text>
<text class="lb" font-size="6.2" letter-spacing="0.7" transform="translate(125.3,360.3) rotate(-90) scale(1.1,1)">β13</text>
<text class="lb" font-size="6.2" letter-spacing="0.7" transform="translate(134.3,360.3) rotate(-90) scale(1.1,1)">β13.1</text>
<text class="lb" font-size="6.2" letter-spacing="0.7" transform="translate(143.3,360.3) rotate(-90) scale(1.1,1)">β13.6</text>
<text class="lb" font-size="6.2" letter-spacing="0.7" transform="translate(152.3,360.3) rotate(-90) scale(1.1,1)">β14</text>
<text class="lb" font-size="6.2" letter-spacing="0.7" transform="translate(161.3,360.3) rotate(-90) scale(1.1,1)">β16</text>
<text class="lb" font-size="6.2" letter-spacing="0.7" transform="translate(170.3,360.3) rotate(-90) scale(1.1,1)">β17</text>
<text class="lb" font-size="6.2" letter-spacing="0.7" transform="translate(179.3,360.3) rotate(-90) scale(1.1,1)">β20</text>
<text class="lb" font-size="6.2" letter-spacing="0.7" transform="translate(188.3,360.3) rotate(-90) scale(1.1,1)">β21.3</text>
<text class="lb" font-size="6.2" letter-spacing="0.7" transform="translate(197.3,360.3) rotate(-90) scale(1.1,1)">β22</text>
<text class="lb" font-size="6.2" letter-spacing="0.7" transform="translate(206.3,360.3) rotate(-90) scale(1.1,1)">α2</text>
<text class="lb" font-size="6.2" letter-spacing="0.7" transform="translate(215.3,360.3) rotate(-90) scale(1.1,1)">α12.1</text>
<text class="lb" font-size="6.2" letter-spacing="0.7" transform="translate(224.3,360.3) rotate(-90) scale(1.1,1)">α24</text>
<text class="lb" font-size="6.2" letter-spacing="0.7" transform="translate(233.3,360.3) rotate(-90) scale(1.1,1)">γ9</text>
<text class="lb" font-size="6.2" letter-spacing="0.7" transform="translate(242.3,360.3) rotate(-90) scale(1.1,1)">δ2</text>
<text class="lb" font-size="6.2" letter-spacing="0.7" transform="translate(251.3,360.3) rotate(-90) scale(1.1,1)">δ3</text>
<text class="b" x="193.9" y="219.2" font-size="12">Patient #3</text>
<clipPath id="c3"><rect x="312.8" y="302.07" width="5.1" height="31.72"/><rect x="331.11" y="308.07" width="5.1" height="25.73"/><rect x="340.27" y="305.95" width="5.1" height="27.85"/><rect x="358.58" y="303.84" width="5.1" height="29.96"/><rect x="367.74" y="330.28" width="5.1" height="3.52"/><rect x="376.9" y="319.7" width="5.1" height="14.1"/><rect x="386.06" y="292.21" width="5.1" height="41.59"/><rect x="395.21" y="328.51" width="5.1" height="5.29"/><rect x="404.37" y="325.34" width="5.1" height="8.46"/><rect x="413.53" y="313.36" width="5.1" height="20.45"/><rect x="422.68" y="327.45" width="5.1" height="6.34"/><rect x="431.84" y="317.59" width="5.1" height="16.21"/><rect x="441" y="322.52" width="5.1" height="11.28"/><rect x="450.16" y="314.41" width="5.1" height="19.39"/><rect x="459.31" y="266.12" width="5.1" height="67.68"/><rect x="468.47" y="305.95" width="5.1" height="27.85"/><rect x="477.63" y="302.43" width="5.1" height="31.37"/><rect x="495.94" y="328.87" width="5.1" height="4.93"/><rect x="505.1" y="326.05" width="5.1" height="7.76"/><rect x="514.25" y="332.39" width="5.1" height="1.41"/></clipPath>
<g clip-path="url(#c3)"><rect x="307.1" y="190.8" width="212.61" height="144" fill="#fff"/><path d="M307.1 186.4L519.71 -26.21M307.1 189.9L519.71 -22.71M307.1 193.4L519.71 -19.21M307.1 196.9L519.71 -15.71M307.1 200.4L519.71 -12.21M307.1 203.9L519.71 -8.71M307.1 207.4L519.71 -5.21M307.1 210.9L519.71 -1.71M307.1 214.4L519.71 1.79M307.1 217.9L519.71 5.29M307.1 221.4L519.71 8.79M307.1 224.9L519.71 12.29M307.1 228.4L519.71 15.79M307.1 231.9L519.71 19.29M307.1 235.4L519.71 22.79M307.1 238.9L519.71 26.29M307.1 242.4L519.71 29.79M307.1 245.9L519.71 33.29M307.1 249.4L519.71 36.79M307.1 252.9L519.71 40.29M307.1 256.4L519.71 43.79M307.1 259.9L519.71 47.29M307.1 263.4L519.71 50.79M307.1 266.9L519.71 54.29M307.1 270.4L519.71 57.79M307.1 273.9L519.71 61.29M307.1 277.4L519.71 64.79M307.1 280.9L519.71 68.29M307.1 284.4L519.71 71.79M307.1 287.9L519.71 75.29M307.1 291.4L519.71 78.79M307.1 294.9L519.71 82.29M307.1 298.4L519.71 85.79M307.1 301.9L519.71 89.29M307.1 305.4L519.71 92.79M307.1 308.9L519.71 96.29M307.1 312.4L519.71 99.79M307.1 315.9L519.71 103.29M307.1 319.4L519.71 106.79M307.1 322.9L519.71 110.29M307.1 326.4L519.71 113.79M307.1 329.9L519.71 117.29M307.1 333.4L519.71 120.79M307.1 336.9L519.71 124.29M307.1 340.4L519.71 127.79M307.1 343.9L519.71 131.29M307.1 347.4L519.71 134.79M307.1 350.9L519.71 138.29M307.1 354.4L519.71 141.79M307.1 357.9L519.71 145.29M307.1 361.4L519.71 148.79M307.1 364.9L519.71 152.29M307.1 368.4L519.71 155.79M307.1 371.9L519.71 159.29M307.1 375.4L519.71 162.79M307.1 378.9L519.71 166.29M307.1 382.4L519.71 169.79M307.1 385.9L519.71 173.29M307.1 389.4L519.71 176.79M307.1 392.9L519.71 180.29M307.1 396.4L519.71 183.79M307.1 399.9L519.71 187.29M307.1 403.4L519.71 190.79M307.1 406.9L519.71 194.29M307.1 410.4L519.71 197.79M307.1 413.9L519.71 201.29M307.1 417.4L519.71 204.79M307.1 420.9L519.71 208.29M307.1 424.4L519.71 211.79M307.1 427.9L519.71 215.29M307.1 431.4L519.71 218.79M307.1 434.9L519.71 222.29M307.1 438.4L519.71 225.79M307.1 441.9L519.71 229.29M307.1 445.4L519.71 232.79M307.1 448.9L519.71 236.29M307.1 452.4L519.71 239.79M307.1 455.9L519.71 243.29M307.1 459.4L519.71 246.79M307.1 462.9L519.71 250.29M307.1 466.4L519.71 253.79M307.1 469.9L519.71 257.29M307.1 473.4L519.71 260.79M307.1 476.9L519.71 264.29M307.1 480.4L519.71 267.79M307.1 483.9L519.71 271.29M307.1 487.4L519.71 274.79M307.1 490.9L519.71 278.29M307.1 494.4L519.71 281.79M307.1 497.9L519.71 285.29M307.1 501.4L519.71 288.79M307.1 504.9L519.71 292.29M307.1 508.4L519.71 295.79M307.1 511.9L519.71 299.29M307.1 515.4L519.71 302.79M307.1 518.9L519.71 306.29M307.1 522.4L519.71 309.79M307.1 525.9L519.71 313.29M307.1 529.4L519.71 316.79M307.1 532.9L519.71 320.29M307.1 536.4L519.71 323.79M307.1 539.9L519.71 327.29M307.1 543.4L519.71 330.79M307.1 546.9L519.71 334.29M307.1 550.4L519.71 337.79" stroke="#000" stroke-width="1.05" fill="none"/></g>
<g fill="none" stroke="#000" stroke-width="0.9"><rect x="313.25" y="302.52" width="4.2" height="30.82"/><rect x="331.56" y="308.52" width="4.2" height="24.83"/><rect x="340.72" y="306.4" width="4.2" height="26.95"/><rect x="359.03" y="304.29" width="4.2" height="29.06"/><rect x="368.19" y="330.73" width="4.2" height="2.62"/><rect x="377.35" y="320.15" width="4.2" height="13.2"/><rect x="386.51" y="292.66" width="4.2" height="40.7"/><rect x="395.66" y="328.96" width="4.2" height="4.39"/><rect x="404.82" y="325.79" width="4.2" height="7.56"/><rect x="413.98" y="313.81" width="4.2" height="19.55"/><rect x="423.13" y="327.9" width="4.2" height="5.44"/><rect x="432.29" y="318.04" width="4.2" height="15.31"/><rect x="441.45" y="322.97" width="4.2" height="10.38"/><rect x="450.61" y="314.86" width="4.2" height="18.49"/><rect x="459.76" y="266.57" width="4.2" height="66.78"/><rect x="468.92" y="306.4" width="4.2" height="26.95"/><rect x="478.08" y="302.88" width="4.2" height="30.47"/><rect x="496.39" y="329.31" width="4.2" height="4.03"/><rect x="505.55" y="326.5" width="4.2" height="6.86"/><rect x="514.7" y="332.84" width="4.2" height="0.51"/></g>
<g fill="#000"><rect x="308.9" y="286.21" width="3.9" height="47.59"/><rect x="318.06" y="319.7" width="3.9" height="14.1"/><rect x="327.21" y="321.46" width="3.9" height="12.34"/><rect x="336.37" y="326.96" width="3.9" height="6.84"/><rect x="345.53" y="330.98" width="3.9" height="2.82"/><rect x="354.69" y="320.55" width="3.9" height="13.25"/><rect x="373" y="323.23" width="3.9" height="10.57"/><rect x="382.16" y="312.3" width="3.9" height="21.5"/><rect x="391.31" y="319" width="3.9" height="14.8"/><rect x="400.47" y="328.16" width="3.9" height="5.64"/><rect x="409.63" y="322.17" width="3.9" height="11.63"/><rect x="418.78" y="330.28" width="3.9" height="3.52"/><rect x="427.94" y="306.66" width="3.9" height="27.14"/><rect x="437.1" y="321.81" width="3.9" height="11.98"/><rect x="446.26" y="328.51" width="3.9" height="5.29"/><rect x="455.41" y="304.19" width="3.9" height="29.61"/><rect x="464.57" y="320.05" width="3.9" height="13.75"/><rect x="473.73" y="312.3" width="3.9" height="21.5"/><rect x="482.88" y="332.39" width="3.9" height="1.41"/><rect x="492.04" y="320.41" width="3.9" height="13.39"/><rect x="501.2" y="319.7" width="3.9" height="14.1"/><rect x="510.35" y="332.39" width="3.9" height="1.41"/></g>
<rect x="306.5" y="192.3" width="1.2" height="142" fill="#000"/>
<rect x="306.5" y="333.2" width="211.81" height="1.3" fill="#000"/>
<rect x="302.1" y="333.3" width="5" height="1" fill="#000"/>
<rect x="304.8" y="329.83" width="2.3" height="0.9" fill="#000"/>
<rect x="304.8" y="326.3" width="2.3" height="0.9" fill="#000"/>
<rect x="304.8" y="322.78" width="2.3" height="0.9" fill="#000"/>
<rect x="302.1" y="319.2" width="5" height="1" fill="#000"/>
<rect x="304.8" y="315.73" width="2.3" height="0.9" fill="#000"/>
<rect x="304.8" y="312.2" width="2.3" height="0.9" fill="#000"/>
<rect x="304.8" y="308.68" width="2.3" height="0.9" fill="#000"/>
<rect x="302.1" y="305.1" width="5" height="1" fill="#000"/>
<rect x="304.8" y="301.62" width="2.3" height="0.9" fill="#000"/>
<rect x="304.8" y="298.1" width="2.3" height="0.9" fill="#000"/>
<rect x="304.8" y="294.58" width="2.3" height="0.9" fill="#000"/>
<rect x="302.1" y="291" width="5" height="1" fill="#000"/>
<rect x="304.8" y="287.53" width="2.3" height="0.9" fill="#000"/>
<rect x="304.8" y="284" width="2.3" height="0.9" fill="#000"/>
<rect x="304.8" y="280.48" width="2.3" height="0.9" fill="#000"/>
<rect x="302.1" y="276.9" width="5" height="1" fill="#000"/>
<rect x="304.8" y="273.43" width="2.3" height="0.9" fill="#000"/>
<rect x="304.8" y="269.9" width="2.3" height="0.9" fill="#000"/>
<rect x="304.8" y="266.38" width="2.3" height="0.9" fill="#000"/>
<rect x="302.1" y="262.8" width="5" height="1" fill="#000"/>
<rect x="304.8" y="259.33" width="2.3" height="0.9" fill="#000"/>
<rect x="304.8" y="255.8" width="2.3" height="0.9" fill="#000"/>
<rect x="304.8" y="252.28" width="2.3" height="0.9" fill="#000"/>
<rect x="302.1" y="248.7" width="5" height="1" fill="#000"/>
<rect x="304.8" y="245.23" width="2.3" height="0.9" fill="#000"/>
<rect x="304.8" y="241.7" width="2.3" height="0.9" fill="#000"/>
<rect x="304.8" y="238.18" width="2.3" height="0.9" fill="#000"/>
<rect x="302.1" y="234.6" width="5" height="1" fill="#000"/>
<rect x="304.8" y="231.13" width="2.3" height="0.9" fill="#000"/>
<rect x="304.8" y="227.6" width="2.3" height="0.9" fill="#000"/>
<rect x="304.8" y="224.08" width="2.3" height="0.9" fill="#000"/>
<rect x="302.1" y="220.5" width="5" height="1" fill="#000"/>
<rect x="304.8" y="217.03" width="2.3" height="0.9" fill="#000"/>
<rect x="304.8" y="213.5" width="2.3" height="0.9" fill="#000"/>
<rect x="304.8" y="209.98" width="2.3" height="0.9" fill="#000"/>
<rect x="302.1" y="206.4" width="5" height="1" fill="#000"/>
<rect x="304.8" y="202.93" width="2.3" height="0.9" fill="#000"/>
<rect x="304.8" y="199.4" width="2.3" height="0.9" fill="#000"/>
<rect x="304.8" y="195.88" width="2.3" height="0.9" fill="#000"/>
<rect x="302.1" y="192.3" width="5" height="1" fill="#000"/>
<rect x="306.45" y="333.8" width="1.3" height="5.5" fill="#000"/>
<rect x="315.61" y="333.8" width="1.3" height="5.5" fill="#000"/>
<rect x="324.76" y="333.8" width="1.3" height="5.5" fill="#000"/>
<rect x="333.92" y="333.8" width="1.3" height="5.5" fill="#000"/>
<rect x="343.08" y="333.8" width="1.3" height="5.5" fill="#000"/>
<rect x="352.24" y="333.8" width="1.3" height="5.5" fill="#000"/>
<rect x="361.39" y="333.8" width="1.3" height="5.5" fill="#000"/>
<rect x="370.55" y="333.8" width="1.3" height="5.5" fill="#000"/>
<rect x="379.71" y="333.8" width="1.3" height="5.5" fill="#000"/>
<rect x="388.86" y="333.8" width="1.3" height="5.5" fill="#000"/>
<rect x="398.02" y="333.8" width="1.3" height="5.5" fill="#000"/>
<rect x="407.18" y="333.8" width="1.3" height="5.5" fill="#000"/>
<rect x="416.33" y="333.8" width="1.3" height="5.5" fill="#000"/>
<rect x="425.49" y="333.8" width="1.3" height="5.5" fill="#000"/>
<rect x="434.65" y="333.8" width="1.3" height="5.5" fill="#000"/>
<rect x="443.81" y="333.8" width="1.3" height="5.5" fill="#000"/>
<rect x="452.96" y="333.8" width="1.3" height="5.5" fill="#000"/>
<rect x="462.12" y="333.8" width="1.3" height="5.5" fill="#000"/>
<rect x="471.28" y="333.8" width="1.3" height="5.5" fill="#000"/>
<rect x="480.43" y="333.8" width="1.3" height="5.5" fill="#000"/>
<rect x="489.59" y="333.8" width="1.3" height="5.5" fill="#000"/>
<rect x="498.75" y="333.8" width="1.3" height="5.5" fill="#000"/>
<rect x="507.9" y="333.8" width="1.3" height="5.5" fill="#000"/>
<rect x="517.06" y="333.8" width="1.3" height="5.5" fill="#000"/>
<text class="yl" font-size="7.5" text-anchor="end" transform="translate(300.7,335.6)">0</text>
<text class="yl" font-size="7.5" text-anchor="end" transform="translate(300.7,321.5)">2</text>
<text class="yl" font-size="7.5" text-anchor="end" transform="translate(300.7,307.4)">4</text>
<text class="yl" font-size="7.5" text-anchor="end" transform="translate(300.7,293.3)">6</text>
<text class="yl" font-size="7.5" text-anchor="end" transform="translate(300.7,279.2)">8</text>
<text class="yl" font-size="7.5" text-anchor="end" transform="translate(300.7,265.1)">10</text>
<text class="yl" font-size="7.5" text-anchor="end" transform="translate(300.7,251)">12</text>
<text class="yl" font-size="7.5" text-anchor="end" transform="translate(300.7,236.9)">14</text>
<text class="yl" font-size="7.5" text-anchor="end" transform="translate(300.7,222.8)">16</text>
<text class="yl" font-size="7.5" text-anchor="end" transform="translate(300.7,208.7)">18</text>
<text class="yl" font-size="7.5" text-anchor="end" transform="translate(300.7,194.6)">20</text>
<text class="lb" font-size="6.2" letter-spacing="0.7" transform="translate(314.78,360.3) rotate(-90) scale(1.1,1)">β2</text>
<text class="lb" font-size="6.2" letter-spacing="0.7" transform="translate(323.94,360.3) rotate(-90) scale(1.1,1)">β3</text>
<text class="lb" font-size="6.2" letter-spacing="0.7" transform="translate(333.09,360.3) rotate(-90) scale(1.1,1)">β5.1</text>
<text class="lb" font-size="6.2" letter-spacing="0.7" transform="translate(342.25,360.3) rotate(-90) scale(1.1,1)">β5.2</text>
<text class="lb" font-size="6.2" letter-spacing="0.7" transform="translate(351.41,360.3) rotate(-90) scale(1.1,1)">β6.7</text>
<text class="lb" font-size="6.2" letter-spacing="0.7" transform="translate(360.56,360.3) rotate(-90) scale(1.1,1)">β8</text>
<text class="lb" font-size="6.2" letter-spacing="0.7" transform="translate(369.72,360.3) rotate(-90) scale(1.1,1)">β11</text>
<text class="lb" font-size="6.2" letter-spacing="0.7" transform="translate(378.88,360.3) rotate(-90) scale(1.1,1)">β12</text>
<text class="lb" font-size="6.2" letter-spacing="0.7" transform="translate(388.03,360.3) rotate(-90) scale(1.1,1)">β13</text>
<text class="lb" font-size="6.2" letter-spacing="0.7" transform="translate(397.19,360.3) rotate(-90) scale(1.1,1)">β13.1</text>
<text class="lb" font-size="6.2" letter-spacing="0.7" transform="translate(406.35,360.3) rotate(-90) scale(1.1,1)">β13.6</text>
<text class="lb" font-size="6.2" letter-spacing="0.7" transform="translate(415.51,360.3) rotate(-90) scale(1.1,1)">β14</text>
<text class="lb" font-size="6.2" letter-spacing="0.7" transform="translate(424.66,360.3) rotate(-90) scale(1.1,1)">β16</text>
<text class="lb" font-size="6.2" letter-spacing="0.7" transform="translate(433.82,360.3) rotate(-90) scale(1.1,1)">β17</text>
<text class="lb" font-size="6.2" letter-spacing="0.7" transform="translate(442.98,360.3) rotate(-90) scale(1.1,1)">β20</text>
<text class="lb" font-size="6.2" letter-spacing="0.7" transform="translate(452.13,360.3) rotate(-90) scale(1.1,1)">β21.3</text>
<text class="lb" font-size="6.2" letter-spacing="0.7" transform="translate(461.29,360.3) rotate(-90) scale(1.1,1)">β22</text>
<text class="lb" font-size="6.2" letter-spacing="0.7" transform="translate(470.45,360.3) rotate(-90) scale(1.1,1)">α2</text>
<text class="lb" font-size="6.2" letter-spacing="0.7" transform="translate(479.6,360.3) rotate(-90) scale(1.1,1)">α12.1</text>
<text class="lb" font-size="6.2" letter-spacing="0.7" transform="translate(488.76,360.3) rotate(-90) scale(1.1,1)">α24</text>
<text class="lb" font-size="6.2" letter-spacing="0.7" transform="translate(497.92,360.3) rotate(-90) scale(1.1,1)">γ9</text>
<text class="lb" font-size="6.2" letter-spacing="0.7" transform="translate(507.08,360.3) rotate(-90) scale(1.1,1)">δ2</text>
<text class="lb" font-size="6.2" letter-spacing="0.7" transform="translate(516.23,360.3) rotate(-90) scale(1.1,1)">δ3</text>
<text class="b" x="456.1" y="218.3" font-size="12">Patient #8</text>
</svg>
</body></html>
